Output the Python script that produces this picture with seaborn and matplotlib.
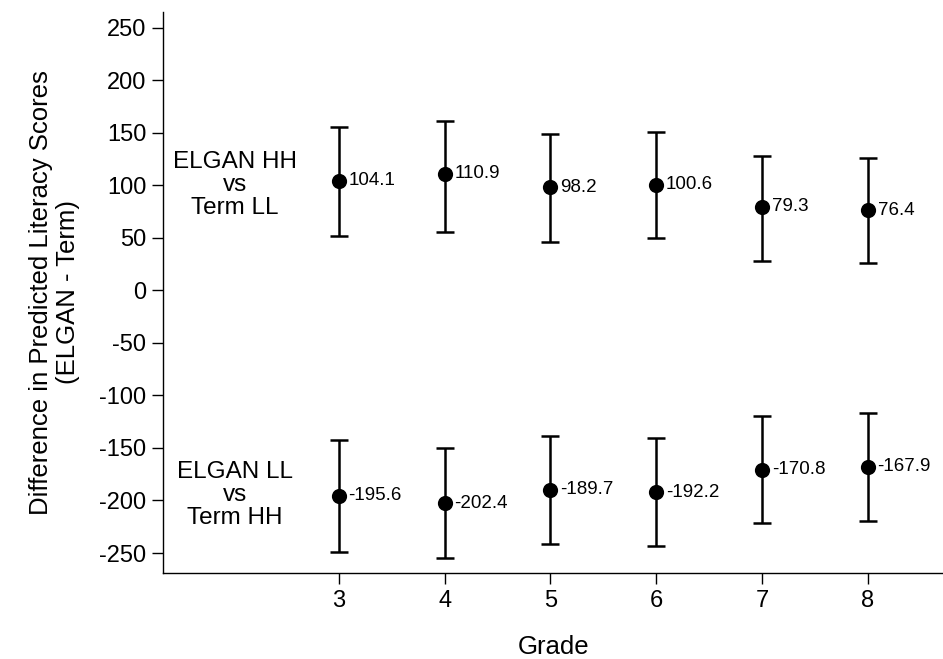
import numpy as np
import pandas as pd
import seaborn as sns
import matplotlib.pyplot as plt

grades = [3, 4, 5, 6, 7, 8]

# ELGAN HH vs Term LL
hh_est = [104.1, 110.9, 98.2, 100.6, 79.3, 76.4]
hh_lo = [51.7, 55.1, 46.4, 49.8, 28.2, 26.2]
hh_hi = [155.9, 161.4, 148.3, 150.4, 128.2, 126.2]

# ELGAN LL vs Term HH
ll_est = [-195.6, -202.4, -189.7, -192.2, -170.8, -167.9]
ll_lo = [-249.0, -254.5, -241.2, -242.9, -221.0, -219.7]
ll_hi = [-142.9, -150.4, -138.3, -140.8, -119.7, -117.1]

group_labels = ["ELGAN HH\nvs\nTerm LL", "ELGAN LL\nvs\nTerm HH"]

df = pd.DataFrame({
    "Grade": grades * 2,
    "est": hh_est + ll_est,
    "lo": hh_lo + ll_lo,
    "hi": hh_hi + ll_hi,
    "group": ["HH"] * 6 + ["LL"] * 6,
})

sns.set_theme(style="ticks")
plt.rcParams["font.family"] = ["Liberation Sans", "DejaVu Sans"]
plt.rcParams["axes.unicode_minus"] = False
plt.rcParams["text.color"] = "black"

fig = plt.figure(figsize=(9.43, 6.59), dpi=100)
ax = fig.add_axes([0.173, 0.1305, 0.827, 0.8515])

# error bars
ax.errorbar(df["Grade"], df["est"],
            yerr=[df["est"] - df["lo"], df["hi"] - df["est"]],
            fmt="none", ecolor="black", elinewidth=1.8, capsize=6.2, capthick=1.8)
sns.scatterplot(data=df, x="Grade", y="est", color="black", s=120,
                edgecolor="black", linewidth=0, ax=ax, zorder=3)

for g, v in zip(df["Grade"], df["est"]):
    ax.annotate(f"{v:.1f}", (g, v), xytext=(7, 0), textcoords="offset points",
                ha="left", va="center", fontsize=13.5, color="black")

ax.text(2.02, 100, group_labels[0], ha="center", va="center", fontsize=17.5,
        linespacing=1.05, color="black")
ax.text(2.02, -195, group_labels[1], ha="center", va="center", fontsize=17.5,
        linespacing=1.05, color="black")

ax.set_xlim(1.34, 8.71)
ax.set_ylim(-269, 265)
ax.set_xticks(grades)
ax.set_yticks(np.arange(-250, 251, 50))
ax.tick_params(axis="both", labelsize=17, length=8, width=1, color="black",
               labelcolor="black", direction="out", pad=4)
ax.set_xlabel("Grade", fontsize=18.5, labelpad=17, color="black")
ax.set_ylabel("Difference in Predicted Literacy Scores\n(ELGAN - Term)",
              fontsize=18.5, labelpad=14, linespacing=1.15, color="black")
sns.despine(ax=ax)
for s in ["left", "bottom"]:
    ax.spines[s].set_color("black")
    ax.spines[s].set_linewidth(1)

fig.savefig("out.png", dpi=100)
